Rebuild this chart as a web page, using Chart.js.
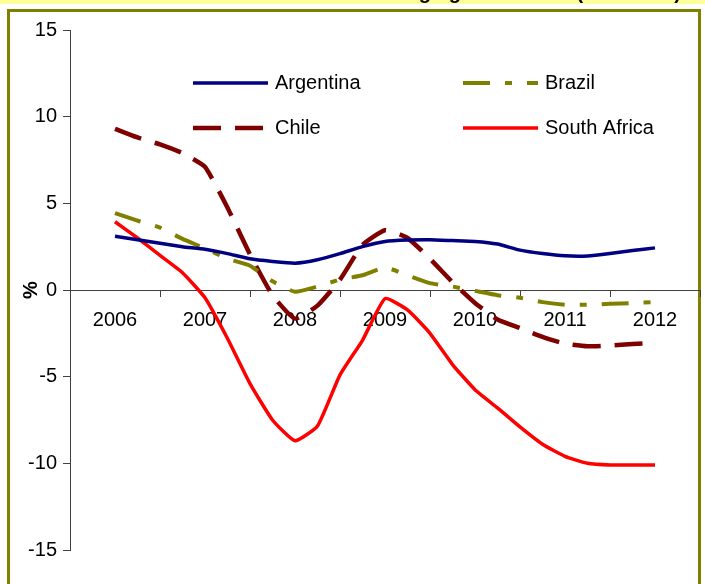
<!DOCTYPE html>
<html>
<head>
<meta charset="utf-8">
<script src="https://cdn.jsdelivr.net/npm/chart.js@4.4.1/dist/chart.umd.min.js"></script>
<style>
  html, body { margin: 0; padding: 0; background: #ffffff; }
  #wrap { position: relative; width: 705px; height: 584px; overflow: hidden; }
  canvas { display: block; }
</style>
</head>
<body>
<div id="wrap"><canvas id="chart" width="705" height="584"></canvas></div>
<script>
// Quarterly observations, 2006 Q1 to 2012 Q1 (in fractional years)
const quarters = [
  2006.00, 2006.25, 2006.50, 2006.75,
  2007.00, 2007.25, 2007.50, 2007.75,
  2008.00, 2008.25, 2008.50, 2008.75,
  2009.00, 2009.25, 2009.50, 2009.75,
  2010.00, 2010.25, 2010.50, 2010.75,
  2011.00, 2011.25, 2011.50, 2011.75,
  2012.00
];
const yearLabels = ['2006', '2007', '2008', '2009', '2010', '2011', '2012'];
const yTicks = [-15, -10, -5, 0, 5, 10, 15];

// Series values, %
const argentina = [3.1, 2.9, 2.7, 2.5, 2.35, 2.1, 1.8, 1.65, 1.55, 1.75, 2.1, 2.5, 2.8,
  2.88, 2.9, 2.85, 2.8, 2.65, 2.3, 2.1, 1.97, 1.96, 2.1, 2.28, 2.43];
const brazil = [4.44, 4.0, 3.6, 2.95, 2.4, 1.8, 1.4, 0.5, -0.1, 0.2, 0.6, 0.85, 1.3,
  0.85, 0.4, 0.2, -0.05, -0.3, -0.45, -0.7, -0.85, -0.85, -0.8, -0.75, -0.7];
const chile = [9.3, 8.8, 8.4, 7.9, 7.1, 4.75, 2.05, -0.3, -1.65, -0.9, 0.6, 2.6, 3.45,
  3.0, 1.8, 0.45, -0.75, -1.7, -2.2, -2.7, -3.1, -3.25, -3.2, -3.12, -3.06];
const southAfrica = [3.94, 3.0, 2.0, 1.0, -0.45, -2.8, -5.4, -7.5, -8.7, -7.85, -4.9, -2.9, -0.5,
  -1.15, -2.5, -4.3, -5.75, -6.8, -7.9, -8.9, -9.6, -10.0, -10.1, -10.1, -10.1];

const FONT = "'Liberation Sans', Arial, sans-serif";
const AXIS_GREY = '#404040';

function points(values) {
  return quarters.map((q, i) => ({ x: q, y: values[i] }));
}

// Page frame: pale banner with the heading, and the olive box round the plot
const framePlugin = {
  id: 'frame',
  beforeDraw(chart) {
    const ctx = chart.ctx;
    ctx.save();
    ctx.fillStyle = '#ffffff';
    ctx.fillRect(0, 0, chart.width, chart.height);
    ctx.fillStyle = '#ffff99';
    ctx.fillRect(0, 0, chart.width, 4);
    ctx.beginPath();
    ctx.rect(0, 0, chart.width, 4);
    ctx.clip();
    ctx.fillStyle = '#000000';
    ctx.font = 'bold 20px ' + FONT;
    ctx.textAlign = 'right';
    ctx.textBaseline = 'alphabetic';
    ctx.fillText('Fiscal balance in emerging economies (% of GDP)', 681, -1);
    ctx.restore();

    ctx.save();
    ctx.strokeStyle = '#808000';
    ctx.lineWidth = 3;
    ctx.strokeRect(8.5, 10.5, 691, 600);
    ctx.restore();
  }
};

// Two-column key drawn inside the plot
const keyPlugin = {
  id: 'seriesKey',
  afterDraw(chart) {
    const ctx = chart.ctx;
    const slots = [
      { x: 193, y: 83 }, { x: 463, y: 83 },
      { x: 193, y: 128 }, { x: 463, y: 128 }
    ];
    chart.data.datasets.forEach((ds, i) => {
      const s = slots[i];
      ctx.save();
      ctx.strokeStyle = ds.borderColor;
      ctx.lineWidth = ds.borderWidth;
      ctx.setLineDash(ds.borderDash || []);
      ctx.beginPath();
      ctx.moveTo(s.x, s.y);
      ctx.lineTo(s.x + 75, s.y);
      ctx.stroke();
      ctx.setLineDash([]);
      ctx.fillStyle = '#000000';
      ctx.font = '20px ' + FONT;
      ctx.textAlign = 'left';
      ctx.textBaseline = 'middle';
      ctx.fillText(ds.label, s.x + 82, s.y);
      ctx.restore();
    });
  }
};

new Chart(document.getElementById('chart'), {
  type: 'line',
  data: {
    datasets: [
      { label: 'Argentina', data: points(argentina), borderColor: '#000080', borderWidth: 3.5 },
      { label: 'Brazil', data: points(brazil), borderColor: '#808000', borderWidth: 4, borderDash: [27, 15, 7, 15] },
      { label: 'Chile', data: points(chile), borderColor: '#800000', borderWidth: 4.5, borderDash: [28, 14] },
      { label: 'South Africa', data: points(southAfrica), borderColor: '#ff0000', borderWidth: 3.5 }
    ]
  },
  options: {
    responsive: false,
    animation: false,
    devicePixelRatio: 1,
    layout: { padding: { left: 0, right: 5, top: 30, bottom: 34 } },
    elements: {
      point: { radius: 0, hoverRadius: 0 },
      line: { tension: 0.15, fill: false, borderCapStyle: 'butt' }
    },
    plugins: {
      legend: { display: false },
      tooltip: { enabled: false },
      title: { display: false }
    },
    scales: {
      x: {
        type: 'linear',
        position: { y: 0 },
        min: 2005.5,
        max: 2012.5,
        afterBuildTicks(scale) {
          const ticks = [];
          yearLabels.forEach(y => {
            ticks.push({ value: Number(y) - 0.5 });
            ticks.push({ value: Number(y) });
          });
          ticks.push({ value: Number(yearLabels[yearLabels.length - 1]) + 0.5 });
          scale.ticks = ticks;
        },
        afterFit(scale) {
          scale.height = 0;
          scale.paddingLeft = 0;
          scale.paddingRight = 0;
        },
        grid: {
          drawOnChartArea: false,
          drawTicks: true,
          tickLength: 6,
          color: (c) => (c.tick && Number.isInteger(c.tick.value)) ? 'rgba(0,0,0,0)' : AXIS_GREY,
          lineWidth: 1
        },
        border: { display: true, color: AXIS_GREY, width: 1 },
        ticks: {
          autoSkip: false,
          maxRotation: 0,
          padding: 12,
          color: '#000000',
          font: { family: FONT, size: 20 },
          callback: (v) => {
            const i = yearLabels.indexOf(String(v));
            return i >= 0 ? yearLabels[i] : '';
          }
        }
      },
      y: {
        type: 'linear',
        position: 'left',
        min: yTicks[0],
        max: yTicks[yTicks.length - 1],
        afterBuildTicks(scale) {
          scale.ticks = yTicks.map(v => ({ value: v }));
        },
        afterFit(scale) { scale.width = 70; },
        grid: {
          drawOnChartArea: false,
          drawTicks: true,
          tickLength: 7,
          color: AXIS_GREY,
          lineWidth: 1
        },
        border: { display: true, color: AXIS_GREY, width: 1 },
        ticks: {
          padding: 6,
          color: '#000000',
          font: { family: FONT, size: 20 }
        },
        title: {
          display: true,
          text: '%',
          color: '#000000',
          font: { family: FONT, size: 20, weight: 'bold' },
          padding: { top: 19, bottom: 0 }
        }
      }
    }
  },
  plugins: [framePlugin, keyPlugin]
});
</script>
</body>
</html>
